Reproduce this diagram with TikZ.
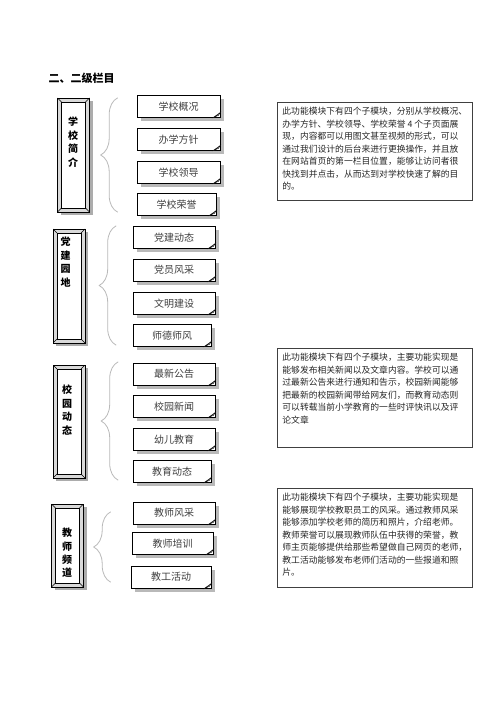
\documentclass[tikz,border=0pt]{standalone}
\usepackage{fontspec}
\setmainfont{Noto Sans CJK SC}
\usetikzlibrary{decorations.pathreplacing, shadows}
\newcommand\tightlines{\lineskiplimit=-20pt\lineskip=0pt\relax}

\tikzset{
  frame/.style={draw, fill=gray!30, minimum width=32pt, inner sep=0pt,
    drop shadow={shadow xshift=3pt, shadow yshift=-3pt, fill=gray!65, opacity=1},
    path picture={
      \draw[fill=white] ([shift={(4pt,-4pt)}]path picture bounding box.north west)
        rectangle ([shift={(-4pt,4pt)}]path picture bounding box.south east);
      \draw (path picture bounding box.north west) -- ++(4pt,-4pt);
      \draw (path picture bounding box.north east) -- ++(-4pt,-4pt);
      \draw (path picture bounding box.south west) -- ++(4pt,4pt);
      \draw (path picture bounding box.south east) -- ++(-4pt,4pt);
    }},
  vchar/.style={font=\fontsize{10}{12}\selectfont\bfseries, inner sep=0pt},
  item/.style={draw, fill=white, anchor=north west, minimum height=22pt, inner sep=0pt,
    font=\fontsize{10}{12}\selectfont, text=black!75,
    drop shadow={shadow xshift=4pt, shadow yshift=-4pt, fill=gray!55, opacity=1}},
  curl/.style={fill=gray!50, draw=black, line width=0.4pt},
  brace/.style={decorate, decoration={brace, amplitude=17pt}, gray!55, line width=0.8pt},
  desc/.style={draw=black!75, line width=0.8pt, anchor=north west, inner sep=5pt,
    font=\fontsize{8.8}{12.5}\selectfont\tightlines, text=black!85}
}

\begin{document}
\begin{tikzpicture}[x=1pt, y=-1pt]
  \useasboundingbox (0,0) rectangle (500,708);
  \node[anchor=west, font=\fontsize{11}{13}\selectfont\bfseries] (title) at (45,78) {二、二级栏目};

  % 学校简介
  \node[frame, minimum height=114pt] (s1) at (73.5,155) {};
  \foreach \c [count=\i] in {学,校,简,介}
    \node[vchar] (s1c\i) at (73,122+13.4*\i-13.4) {\c};
  \draw[brace] ([xshift=28pt]s1.south east) -- ([xshift=28pt]s1.north east);
  \foreach \n/\x/\y/\w/\t in {a1/137/95/83/学校概况, a2/137/128/83/办学方针,
      a3/137/161/83/学校领导, a4/137/193/79/学校荣誉} {
    \node[item, minimum width=\w pt] (\n) at (\x,\y) {\t};
    \filldraw[curl] ([xshift=-7pt]\n.south east) -- ([xshift=-2pt,yshift=2pt]\n.south east)
      -- ([yshift=5pt]\n.south east) -- cycle;
  }
  \node[desc] (d1) at (277,102) {\parbox[t][88pt][t]{185pt}{%
    此功能模块下有四个子模块，分别从学校概况、\\
    办学方针、学校领导、学校荣誉 4 个子页面展\\
    现，内容都可以用图文甚至视频的形式，可以\\
    通过我们设计的后台来进行更换操作，并且放\\
    在网站首页的第一栏目位置，能够让访问者很\\
    快找到并点击，从而达到对学校快速了解的目\\
    的。}};

  % 党建园地
  \node[frame, minimum height=114pt] (s2) at (69,286) {};
  \foreach \c [count=\i] in {党,建,园,地}
    \node[vchar] (s2c\i) at (65.5,242+13.4*\i-13.4) {\c};
  \draw[brace] ([xshift=31pt,yshift=-2pt]s2.south east) -- ([xshift=31pt,yshift=3pt]s2.north east);
  \foreach \n/\x/\y/\w/\t in {b1/133/226/82/党建动态, b2/133/259/82/党员风采,
      b3/133/292/82/文明建设, b4/133/324/78/师德师风} {
    \node[item, minimum width=\w pt] (\n) at (\x,\y) {\t};
    \filldraw[curl] ([xshift=-7pt]\n.south east) -- ([xshift=-2pt,yshift=2pt]\n.south east)
      -- ([yshift=5pt]\n.south east) -- cycle;
  }

  % 校园动态
  \node[frame, minimum height=113pt] (s3) at (69,421.5) {};
  \foreach \c [count=\i] in {校,园,动,态}
    \node[vchar] (s3c\i) at (67,390+13.4*\i-13.4) {\c};
  \draw[brace] ([xshift=33pt,yshift=-2pt]s3.south east) -- ([xshift=33pt,yshift=3pt]s3.north east);
  \foreach \n/\x/\y/\w/\t in {c1/133/363/82/最新公告, c2/133/395/82/校园新闻,
      c3/133/428/82/幼儿教育, c4/133/460/78/教育动态} {
    \node[item, minimum width=\w pt] (\n) at (\x,\y) {\t};
    \filldraw[curl] ([xshift=-7pt]\n.south east) -- ([xshift=-2pt,yshift=2pt]\n.south east)
      -- ([yshift=5pt]\n.south east) -- cycle;
  }
  \node[desc] (d2) at (277,348) {\parbox[t][89pt][t]{185pt}{%
    此功能模块下有四个子模块，主要功能实现是\\
    能够发布相关新闻以及文章内容。学校可以通\\
    过最新公告来进行通知和告示，校园新闻能够\\
    把最新的校园新闻带给网友们，而教育动态则\\
    可以转载当前小学教育的一些时评快讯以及评\\
    论文章}};

  % 教师频道
  \node[frame, minimum height=83pt] (s4) at (67.5,545.5) {};
  \foreach \c [count=\i] in {教,师,频,道}
    \node[vchar] (s4c\i) at (67,533+13.2*\i-13.2) {\c};
  \draw[brace] ([xshift=27pt,yshift=5pt]s4.south east) -- ([xshift=27pt,yshift=-8pt]s4.north east);
  \foreach \n/\x/\y/\w/\t in {e1/133/502/82/教师风采, e2/132/532/81/教师培训,
      e3/131/566/80/教工活动} {
    \node[item, minimum width=\w pt] (\n) at (\x,\y) {\t};
    \filldraw[curl] ([xshift=-7pt]\n.south east) -- ([xshift=-2pt,yshift=2pt]\n.south east)
      -- ([yshift=5pt]\n.south east) -- cycle;
  }
  \node[desc] (d3) at (277,488) {\parbox[t][89pt][t]{185pt}{%
    此功能模块下有四个子模块，主要功能实现是\\
    能够展现学校教职员工的风采。通过教师风采\\
    能够添加学校老师的简历和照片，介绍老师。\\
    教师荣誉可以展现教师队伍中获得的荣誉，教\\
    师主页能够提供给那些希望做自己网页的老师，\\
    教工活动能够发布老师们活动的一些报道和照\\
    片。}};
\end{tikzpicture}
\end{document}
